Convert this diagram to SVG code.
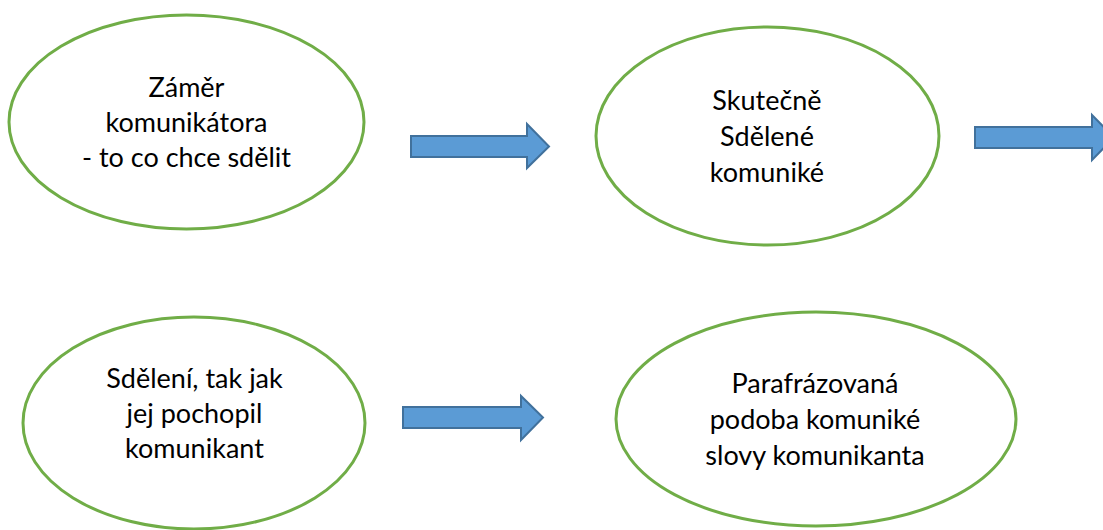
<svg xmlns="http://www.w3.org/2000/svg" width="1103" height="530" viewBox="0 0 1103 530">
  <style>
    .node ellipse { fill: #ffffff; stroke: #70AD47; stroke-width: 3; }
    .node text { font-family: Lato, "Liberation Sans", sans-serif; font-size: 27px; fill: #000000; text-anchor: middle; }
    .arrow { fill: #5B9BD5; stroke: #41719C; stroke-width: 2; stroke-linejoin: miter; }
  </style>
  <rect width="1103" height="530" fill="#ffffff"/>
  <g id="node-zamer" class="node">
    <ellipse cx="186.5" cy="122" rx="177.5" ry="107"/>
    <text x="186.5" y="97">Záměr</text>
    <text x="186.5" y="132">komunikátora</text>
    <text x="186.5" y="167">- to co chce sdělit</text>
  </g>
  <g id="node-skutecne" class="node">
    <ellipse cx="767.5" cy="136" rx="171.5" ry="109"/>
    <text x="767" y="110">Skutečně</text>
    <text x="767" y="146">Sdělené</text>
    <text x="767" y="182">komuniké</text>
  </g>
  <g id="node-pochopil" class="node">
    <ellipse cx="194" cy="423" rx="171" ry="106"/>
    <text x="194.5" y="388">Sdělení, tak jak</text>
    <text x="194.5" y="423">jej pochopil</text>
    <text x="194.5" y="458">komunikant</text>
  </g>
  <g id="node-parafraze" class="node">
    <ellipse cx="816" cy="419" rx="200" ry="107"/>
    <text x="815" y="393">Parafrázovaná</text>
    <text x="815" y="429">podoba komuniké</text>
    <text x="815" y="465">slovy komunikanta</text>
  </g>
  <g id="connectors">
    <polygon class="arrow" points="411,136 527,136 527,124 549,146.5 527,168 527,157 411,157"/>
    <polygon class="arrow" points="975,127 1092,127 1092,115 1114,137.5 1092,160 1092,148 975,148"/>
    <polygon class="arrow" points="403,407 521,407 521,396 543,417.5 521,440 521,428 403,428"/>
  </g>
</svg>
